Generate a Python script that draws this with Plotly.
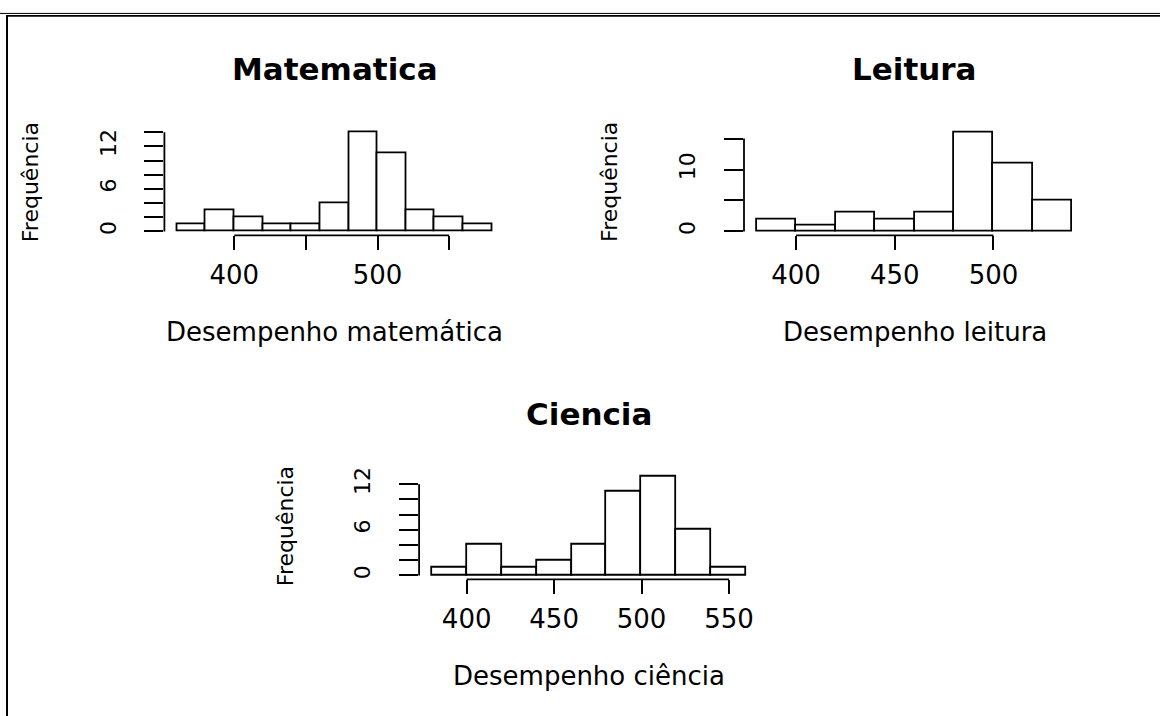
import plotly.graph_objects as go

W, H = 1160, 716

# ---------------- data ----------------
mat_breaks = [360, 380, 400, 420, 440, 460, 480, 500, 520, 540, 560, 580]
mat_counts = [1, 3, 2, 1, 1, 4, 14, 11, 3, 2, 1]

lei_breaks = [380, 400, 420, 440, 460, 480, 500, 520, 540]
lei_counts = [2, 1, 3, 2, 3, 16, 11, 5]

cie_breaks = [380, 400, 420, 440, 460, 480, 500, 520, 540, 560]
cie_counts = [1, 4, 1, 2, 4, 11, 13, 6, 1]

mat_xticks = [400, 450, 500, 550]
mat_xlabels = ["400", "", "500", ""]
mat_yticks = [0, 2, 4, 6, 8, 10, 12, 14]
mat_ylabels = ["0", "", "", "6", "", "", "12", ""]

lei_xticks = [400, 450, 500]
lei_xlabels = ["400", "450", "500"]
lei_yticks = [0, 5, 10, 15]
lei_ylabels = ["0", "", "10", ""]

cie_xticks = [400, 450, 500, 550]
cie_xlabels = ["400", "450", "500", "550"]
cie_yticks = [0, 2, 4, 6, 8, 10, 12]
cie_ylabels = ["0", "", "", "6", "", "", "12"]

titles = ["Matematica", "Leitura", "Ciencia"]
xtitles = ["Desempenho matemática", "Desempenho leitura", "Desempenho ciência"]
ytitle = "Frequência"

# ---------------- layout helpers ----------------
FONT = "DejaVu Sans"
LW = 1.8


def px(x):
    return x / W


def py(y):
    return 1 - y / H


def ext(lo, hi):
    d = (hi - lo) * 0.04
    return [lo - d, hi + d]


panels = [
    dict(breaks=mat_breaks, counts=mat_counts, xt=mat_xticks, xl=mat_xlabels,
         yt=mat_yticks, yl=mat_ylabels, box=(164.4, 504.8, 123.3, 231.3)),
    dict(breaks=lei_breaks, counts=lei_counts, xt=lei_xticks, xl=lei_xlabels,
         yt=lei_yticks, yl=lei_ylabels, box=(744.0, 1085.0, 123.5, 231.3)),
    dict(breaks=cie_breaks, counts=cie_counts, xt=cie_xticks, xl=cie_xlabels,
         yt=cie_yticks, yl=cie_ylabels, box=(419.1, 759.1, 470.6, 578.3)),
]

fig = go.Figure()
layout = dict(width=W, height=H, margin=dict(l=0, r=0, t=0, b=0),
              paper_bgcolor="white", plot_bgcolor="white", bargap=0,
              showlegend=False)
shapes = []
annotations = []

for i, p in enumerate(panels, start=1):
    b = p["breaks"]
    mids = [(b[k] + b[k + 1]) / 2 for k in range(len(b) - 1)]
    widths = [b[k + 1] - b[k] for k in range(len(b) - 1)]
    sx = "" if i == 1 else str(i)
    fig.add_trace(go.Bar(
        x=mids, y=p["counts"], width=widths,
        xaxis="x" + sx, yaxis="y" + sx,
        marker=dict(color="white", line=dict(color="black", width=LW)),
        hoverinfo="skip"))
    x0, x1, y0, y1 = p["box"]
    layout["xaxis" + sx] = dict(
        domain=[px(x0), px(x1)], range=ext(b[0], b[-1]), anchor="y" + sx,
        tickmode="array", tickvals=p["xt"], ticktext=p["xl"],
        ticks="outside", ticklen=14, tickwidth=LW, tickcolor="black",
        showline=False, showgrid=False, zeroline=False,
        tickfont=dict(family=FONT, size=26, color="black"),
        ticklabelstandoff=2, fixedrange=True)
    layout["yaxis" + sx] = dict(
        domain=[py(y1), py(y0)], range=ext(0, max(max(p["counts"]), p["yt"][-1])),
        anchor="x" + sx,
        tickmode="array", tickvals=p["yt"], ticktext=p["yl"],
        ticks="outside", ticklen=19, tickwidth=LW, tickcolor="black",
        showline=False, showgrid=False, zeroline=False, tickangle=-90,
        tickfont=dict(family=FONT, size=22, color="black"),
        ticklabelstandoff=20, fixedrange=True)
    # R-style axis lines spanning first..last tick
    shapes.append(dict(type="line", xref="x" + sx, yref="y" + sx + " domain",
                       x0=p["xt"][0], x1=p["xt"][-1], y0=0, y1=0,
                       line=dict(color="black", width=LW)))
    shapes.append(dict(type="line", xref="x" + sx + " domain", yref="y" + sx,
                       x0=0, x1=0, y0=p["yt"][0], y1=p["yt"][-1],
                       line=dict(color="black", width=LW)))
    cx = (x0 + x1) / 2
    dy = y1 - 231.3
    annotations.append(dict(text="<b>" + titles[i - 1] + "</b>", x=px(cx), y=py(64 + dy),
                            xref="paper", yref="paper", showarrow=False,
                            xanchor="center", yanchor="middle",
                            font=dict(family=FONT, size=31, color="black")))
    annotations.append(dict(text=xtitles[i - 1], x=px(cx), y=py(329 + dy),
                            xref="paper", yref="paper", showarrow=False,
                            xanchor="center", yanchor="middle",
                            font=dict(family=FONT, size=26, color="black")))
    annotations.append(dict(text=ytitle, x=px(x0 - 134), y=py((y0 + y1) / 2),
                            xref="paper", yref="paper", showarrow=False,
                            xanchor="center", yanchor="middle", textangle=-90,
                            font=dict(family=FONT, size=22, color="black")))

# page frame (document border)
shapes.append(dict(type="line", xref="paper", yref="paper", x0=0, x1=1,
                   y0=py(7.5), y1=py(7.5), line=dict(color="black", width=1)))
shapes.append(dict(type="line", xref="paper", yref="paper", x0=px(6), x1=1,
                   y0=py(10), y1=py(10), line=dict(color="black", width=1.8)))
shapes.append(dict(type="line", xref="paper", yref="paper", x0=px(7), x1=px(7),
                   y0=py(10), y1=0, line=dict(color="black", width=2)))

layout["shapes"] = shapes
layout["annotations"] = annotations
fig.update_layout(**layout)
fig.write_html("out.html", config={"displayModeBar": False})
